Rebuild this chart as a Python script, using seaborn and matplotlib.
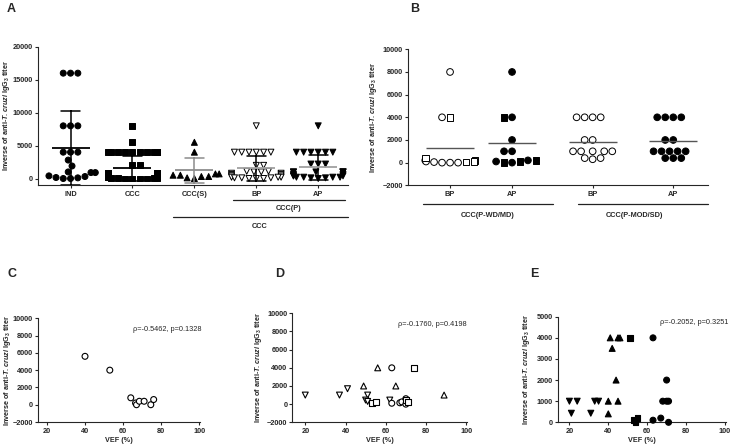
import numpy as np
import pandas as pd
import matplotlib
matplotlib.use("Agg")
import matplotlib.pyplot as plt
import seaborn as sns
from matplotlib.markers import MarkerStyle

sns.set_style("ticks")
plt.rcParams["font.family"] = ["Liberation Sans", "DejaVu Sans"]
plt.rcParams.update({
    "font.weight": "bold",
    "axes.labelweight": "bold",
    "mathtext.fontset": "custom",
    "mathtext.rm": "Liberation Sans:bold",
    "mathtext.it": "Liberation Sans:italic:bold",
    "mathtext.bf": "Liberation Sans:bold",
    "mathtext.default": "rm",
    "axes.linewidth": 0.8,
    "xtick.major.width": 0.8,
    "ytick.major.width": 0.8,
    "xtick.major.size": 2.5,
    "ytick.major.size": 2.5,
    "xtick.labelsize": 5.3,
    "ytick.labelsize": 5.3,
    "axes.labelsize": 5.2,
    "xtick.major.pad": 1.5,
    "ytick.major.pad": 1.0,
})

# ---------------- Panel A data ----------------
a_cats = ["IND", "CCC", "CCC(S)", "BP", "AP"]
a_ind = [16000, 16000, 16000, 8000, 8000, 8000, 4000, 4000, 4000, 2800, 1900,
         1000, 900, 400, 150, 0, 0, 100, 300, 900]
a_ccc = [8000, 5600] + [4000] * 10 + [2000] * 2 + \
        [900] * 2 + [800] * 2 + [700] * 6 + [500] * 4 + [300] * 5 + [200] * 4 + [100] * 4 + [0] * 4
a_cccs = [5500, 4000, 700, 500, 300, 100, 0, 300, 500, 700]
a_bp = [8000] + [4000] * 6 + [2000] * 2 + \
       [1100] * 2 + [1000] * 2 + [800] * 2 + [600] * 2 + [400] * 3 + [200] * 3 + [100] * 3 + [0] * 3
a_ap = [8000] + [4000] * 6 + [2200] * 3 + [1000] * 6 + \
       [600] * 2 + [400] * 3 + [200] * 4 + [100] * 2 + [0]
a_values = [a_ind, a_ccc, a_cccs, a_bp, a_ap]
a_markers = ["o", "s", "^", "v", "v"]
a_fill = ["black", "black", "black", "white", "black"]
a_sd_colors = ["black", "black", "#8c8c8c", "black", "black"]
a_mean_colors = ["black", "black", "#8c8c8c", "#a0a0a0", "#a0a0a0"]

# ---------------- Panel B data ----------------
b_labels = ["BP", "AP", "BP", "AP"]
b_wd_bp_circle = [8000, 4000, 200, 100, 50, 0, 0, 0]
b_wd_bp_square = [4000, 400, 200, 100, 50]
b_wd_ap_circle = [8000, 4000, 2000, 1000, 1000, 200, 0, 100]
b_wd_ap_square = [4000, 100, 0, 200]
b_mod_bp_up = [4000, 4000, 4000, 4000, 2000, 1000, 1000, 300]
b_mod_bp_down = [2000, 1000, 1000, 400, 400, 1000]
b_mod_ap_up = [4000, 4000, 4000, 4000, 2000, 1000, 400, 1000]
b_mod_ap_down = [2000, 1000, 400, 400, 1000, 1000]

# ---------------- Panel C data ----------------
c_vef = [40, 53, 64, 66.5, 67, 68.5, 71, 74.5, 76]
c_val = [5600, 4000, 800, 200, 0, 400, 400, 0, 600]

# ---------------- Panel D data ----------------
d_down_vef = [20, 37, 41, 51, 50, 51, 62]
d_down_val = [1000, 1000, 1700, 1000, 450, 300, 450]
d_up_vef = [49, 56, 65, 89, 70]
d_up_val = [2000, 4000, 2000, 1000, 500]
d_circ_vef = [63, 63, 67, 68, 70, 70, 71]
d_circ_val = [4000, 100, 150, 250, 600, 0, 200]
d_sq_vef = [53, 55, 74, 70, 71]
d_sq_val = [150, 200, 4000, 450, 250]

# ---------------- Panel E data ----------------
e_down_vef = [20, 24, 33, 35, 21, 31]
e_down_val = [1000, 1000, 1000, 1000, 430, 430]
e_up_vef = [41, 45, 46, 42, 44, 40, 45, 40]
e_up_val = [4000, 4000, 4000, 3500, 2000, 1000, 1000, 400]
e_sq_vef = [51, 53, 54, 55, 54]
e_sq_val = [4000, 100, 0, 200, 50]
e_circ_vef = [63, 70, 68, 70, 71, 63, 67, 71]
e_circ_val = [4000, 2000, 1000, 1000, 1000, 100, 200, 0]


def marker_path(m):
    ms = MarkerStyle(m)
    return ms.get_path().transformed(ms.get_transform())


def apply_markers(ax, pos_to_markers):
    for coll in ax.collections:
        offs = coll.get_offsets()
        if len(offs) == 0:
            continue
        x0 = offs[0][0]
        for p, mk in pos_to_markers.items():
            if abs(p - x0) < 1e-6:
                coll.set_paths([marker_path(m) for m in mk])


def ylab(ax, text, xc):
    ax.set_ylabel(text)
    ax.yaxis.set_label_coords(xc, 0.5)


fig = plt.figure(figsize=(7.31, 4.46), dpi=100)

# ================= Panel A =================
axA = fig.add_axes([0.0516, 0.585, 0.4244, 0.31])
rows = []
for c, vals, m, f in zip(a_cats, a_values, a_markers, a_fill):
    for v in vals:
        rows.append({"group": c, "value": v, "marker": m})
dfA = pd.DataFrame(rows)
sns.swarmplot(data=dfA, x="group", y="value", order=a_cats, hue="group",
              hue_order=a_cats, palette=dict(zip(a_cats, a_fill)), size=4.3,
              edgecolor="black", linewidth=0.7, legend=False, warn_thresh=1,
              zorder=1.5, ax=axA)
apply_markers(axA, {i: list(dfA.loc[dfA.group == c, "marker"]) for i, c in enumerate(a_cats)})
sns.pointplot(data=dfA, x="group", y="value", order=a_cats, hue="group",
              hue_order=a_cats, palette=dict(zip(a_cats, a_sd_colors)),
              errorbar="sd", capsize=0.3, markers="_", markersize=0,
              linestyle="none", err_kws={"linewidth": 1.1}, legend=False, ax=axA)
sns.pointplot(data=dfA, x="group", y="value", order=a_cats, hue="group",
              hue_order=a_cats, palette=dict(zip(a_cats, a_mean_colors)),
              errorbar=None, markers="_", markersize=27, markeredgewidth=1.3,
              linestyle="none", legend=False, ax=axA)
axA.set_xlim(-0.53, 4.48)
axA.set_ylim(-1000, 20000)
axA.set_yticks([0, 5000, 10000, 15000, 20000])
axA.set_xlabel("")
ylab(axA, r"Inverse of anti-$\mathit{T.cruzi}$ IgG$_3$ titer", -0.083)
sns.despine(ax=axA)
trA = axA.get_xaxis_transform()
axA.plot([2.62, 4.43], [-0.108, -0.108], transform=trA, clip_on=False, color="#222", lw=0.9)
axA.text(3.52, -0.168, "CCC(P)", transform=trA, ha="center", va="center", fontsize=5.3)
axA.plot([1.66, 4.48], [-0.232, -0.232], transform=trA, clip_on=False, color="#222", lw=0.9)
axA.text(3.05, -0.296, "CCC", transform=trA, ha="center", va="center", fontsize=5.3)

# ================= Panel B =================
axB = fig.add_axes([0.558, 0.5845, 0.4105, 0.305])
b_pos = [0.0, 1.0, 2.3, 3.6]
b_sets = [
    [(b_wd_bp_circle, "o", "open"), (b_wd_bp_square, "s", "open")],
    [(b_wd_ap_circle, "o", "filled"), (b_wd_ap_square, "s", "filled")],
    [(b_mod_bp_up, "^", "open"), (b_mod_bp_down, "v", "open")],
    [(b_mod_ap_up, "^", "filled"), (b_mod_ap_down, "v", "filled")],
]
rows = []
for p, sets in zip(b_pos, b_sets):
    for vals, m, f in sets:
        for v in vals:
            rows.append({"pos": p, "value": v, "marker": m, "fill": f})
dfB = pd.DataFrame(rows)
sns.swarmplot(data=dfB, x="pos", y="value", native_scale=True, hue="fill",
              palette={"open": "white", "filled": "black"}, size=4.8,
              edgecolor="black", linewidth=0.7, legend=False, warn_thresh=1,
              zorder=1.5, ax=axB)
apply_markers(axB, {p: list(dfB.loc[dfB.pos == p, "marker"]) for p in b_pos})
sns.pointplot(data=dfB, x="pos", y="value", native_scale=True, errorbar=None,
              markers="_", markersize=34, markeredgewidth=1.0, color="#555555",
              linestyle="none", ax=axB)
axB.set_xlim(-0.68, 4.16)
axB.set_ylim(-2000, 10000)
axB.set_yticks(range(-2000, 10001, 2000))
axB.set_xticks(b_pos)
axB.set_xticklabels(b_labels)
axB.set_xlabel("")
ylab(axB, r"Inverse of anti-$\mathit{T. cruzi}$ IgG$_3$ titer", -0.097)
sns.despine(ax=axB)
trB = axB.get_xaxis_transform()
axB.plot([-0.44, 1.66], [-0.1375, -0.1375], transform=trB, clip_on=False, color="#222", lw=0.9)
axB.text(0.6, -0.22, "CCC(P-WD/MD)", transform=trB, ha="center", va="center", fontsize=5.3)
axB.plot([2.06, 4.16], [-0.1375, -0.1375], transform=trB, clip_on=False, color="#222", lw=0.9)
axB.text(2.98, -0.22, "CCC(P-MOD/SD)", transform=trB, ha="center", va="center", fontsize=5.3)


def scatter_panel(ax, groups, face, xlim, ylim, yticks, text, txy, ylx, label):
    rows = []
    for vef, val, m in groups:
        for a, b in zip(vef, val):
            rows.append({"vef": a, "value": b, "shape": m})
    df = pd.DataFrame(rows)
    shapes = [g[2] for g in groups]
    sns.scatterplot(data=df, x="vef", y="value", hue="shape", style="shape",
                    hue_order=shapes, style_order=shapes,
                    markers={s: s for s in shapes}, palette={s: face for s in shapes},
                    edgecolor="black", linewidth=0.8, s=18, legend=False,
                    clip_on=False, zorder=3, ax=ax)
    ax.set_xlim(*xlim)
    ax.set_ylim(*ylim)
    ax.set_xticks([20, 40, 60, 80, 100])
    ax.set_yticks(yticks)
    ax.set_xlabel("VEF (%)", labelpad=1.5)
    ylab(ax, label, ylx)
    ax.text(txy[0], txy[1], text, fontsize=5.3, fontweight="normal", va="center")
    sns.despine(ax=ax)


axC = fig.add_axes([0.0516, 0.0538, 0.222, 0.2325])
scatter_panel(axC, [(c_vef, c_val, "o")], "white", (15.2, 100.3), (-2000, 10000),
              range(-2000, 10001, 2000), "ρ=-0.5462, p=0.1328", (65, 8750), -0.155,
              r"Inverse of anti-$\mathit{T.cruzi}$ IgG$_3$ titer")

axD = fig.add_axes([0.40, 0.0531, 0.2386, 0.2444])
scatter_panel(axD, [(d_down_vef, d_down_val, "v"), (d_up_vef, d_up_val, "^"),
                    (d_circ_vef, d_circ_val, "o"), (d_sq_vef, d_sq_val, "s")],
              "white", (13.6, 100.3), (-2000, 10000), range(-2000, 10001, 2000),
              "ρ=-0.1760, p=0.4198", (66, 8730), -0.165,
              r"Inverse of anti-$\mathit{T.cruzi}$ IgG$_3$ titer")

axE = fig.add_axes([0.763, 0.0531, 0.2295, 0.2368])
scatter_panel(axE, [(e_down_vef, e_down_val, "v"), (e_up_vef, e_up_val, "^"),
                    (e_sq_vef, e_sq_val, "s"), (e_circ_vef, e_circ_val, "o")],
              "black", (14, 100.3), (0, 5000), range(0, 5001, 1000),
              "ρ=-0.2052, p=0.3251", (66.6, 4720), -0.156,
              r"Inverse of anti-$\mathit{T.cruzi}$ IgG$_3$ titer")

for x, y, t in [(0.0096, 0.993, "A"), (0.561, 0.993, "B"), (0.0096, 0.4, "C"),
                (0.376, 0.4, "D"), (0.725, 0.4, "E")]:
    fig.text(x, y, t, fontsize=9, fontweight="bold", va="top", ha="left")

fig.savefig("out.png", dpi=100)
